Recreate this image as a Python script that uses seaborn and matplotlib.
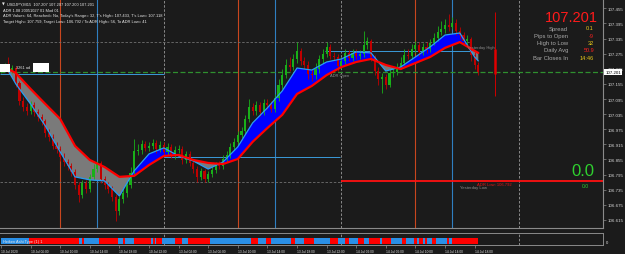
import matplotlib
matplotlib.use("Agg")
import matplotlib.pyplot as plt
from matplotlib.patches import Rectangle
from matplotlib.transforms import blended_transform_factory
import numpy as np
import seaborn as sns

# ---------------- data ----------------
# USDJPY, 30-minute candles placed on the M15 bar index (bar 0 = 10 Jul 02:00)
candle_bar = list(range(0, 260, 2))
first_open = 107.210
closes = [
    107.214, 107.226, 107.210, 107.218, 107.159, 107.087, 107.063, 107.048, 107.071, 107.044,
    107.024, 107.008, 106.960, 106.944, 106.909, 106.897, 106.865, 106.845, 106.829, 106.806,
    106.754, 106.714, 106.762, 106.738, 106.786, 106.817, 106.841, 106.778, 106.754, 106.738,
    106.706, 106.651, 106.698, 106.722, 106.754, 106.802, 106.889, 106.893, 106.917, 106.901,
    106.909, 106.921, 106.897, 106.913, 106.885, 106.905, 106.873, 106.893, 106.897, 106.853,
    106.877, 106.841, 106.817, 106.786, 106.810, 106.778, 106.798, 106.814, 106.833, 106.829,
    106.857, 106.873, 106.905, 106.925, 106.952, 106.968, 107.016, 107.063, 107.048, 107.071,
    107.044, 107.079, 107.071, 107.056, 107.099, 107.151, 107.190, 107.230, 107.222, 107.254,
    107.286, 107.246, 107.230, 107.194, 107.190, 107.214, 107.254, 107.274, 107.302, 107.266,
    107.262, 107.226, 107.246, 107.278, 107.258, 107.278, 107.266, 107.274, 107.310, 107.325,
    107.262, 107.206, 107.175, 107.183, 107.151, 107.198, 107.202, 107.222, 107.238, 107.270,
    107.266, 107.294, 107.310, 107.282, 107.302, 107.294, 107.317, 107.337, 107.361, 107.373,
    107.389, 107.381, 107.397, 107.365, 107.349, 107.325, 107.333, 107.270, 107.230, 107.201]
highs = [
    107.230, 107.238, 107.262, 107.230, 107.226, 107.167, 107.103, 107.079, 107.087, 107.083,
    107.056, 107.036, 107.016, 106.976, 106.956, 106.925, 106.909, 106.881, 106.857, 106.841,
    106.817, 106.766, 106.774, 106.774, 106.798, 106.837, 106.849, 106.849, 106.790, 106.766,
    106.750, 106.718, 106.710, 106.738, 106.766, 106.825, 106.936, 106.917, 106.933, 106.928,
    106.925, 106.936, 106.933, 106.928, 106.925, 106.921, 106.917, 106.909, 106.913, 106.909,
    106.889, 106.889, 106.857, 106.829, 106.821, 106.817, 106.810, 106.829, 106.845, 106.849,
    106.873, 106.889, 106.921, 106.940, 106.968, 106.984, 107.032, 107.095, 107.079, 107.087,
    107.083, 107.095, 107.095, 107.087, 107.115, 107.175, 107.214, 107.254, 107.262, 107.274,
    107.321, 107.298, 107.262, 107.246, 107.214, 107.238, 107.270, 107.294, 107.321, 107.313,
    107.282, 107.274, 107.262, 107.294, 107.290, 107.294, 107.294, 107.290, 107.365, 107.341,
    107.333, 107.270, 107.222, 107.198, 107.194, 107.214, 107.222, 107.238, 107.262, 107.294,
    107.294, 107.313, 107.325, 107.321, 107.317, 107.321, 107.333, 107.357, 107.385, 107.405,
    107.413, 107.433, 107.421, 107.413, 107.381, 107.361, 107.349, 107.341, 107.282, 107.242]
lows = [
    107.198, 107.206, 107.198, 107.198, 107.143, 107.071, 107.048, 107.032, 107.036, 107.028,
    107.008, 106.992, 106.944, 106.928, 106.897, 106.881, 106.849, 106.829, 106.814, 106.790,
    106.738, 106.687, 106.702, 106.722, 106.726, 106.774, 106.806, 106.762, 106.738, 106.722,
    106.690, 106.611, 106.635, 106.683, 106.706, 106.742, 106.790, 106.873, 106.877, 106.889,
    106.889, 106.897, 106.881, 106.885, 106.869, 106.873, 106.861, 106.857, 106.881, 106.837,
    106.841, 106.829, 106.802, 106.766, 106.774, 106.766, 106.766, 106.786, 106.802, 106.817,
    106.817, 106.845, 106.861, 106.893, 106.913, 106.940, 106.956, 107.004, 107.032, 107.032,
    107.028, 107.032, 107.056, 107.044, 107.044, 107.087, 107.135, 107.179, 107.206, 107.210,
    107.238, 107.230, 107.214, 107.175, 107.167, 107.175, 107.198, 107.238, 107.262, 107.254,
    107.246, 107.206, 107.214, 107.234, 107.246, 107.246, 107.254, 107.254, 107.262, 107.294,
    107.246, 107.190, 107.151, 107.118, 107.135, 107.143, 107.183, 107.190, 107.214, 107.230,
    107.254, 107.254, 107.278, 107.266, 107.270, 107.278, 107.282, 107.310, 107.325, 107.349,
    107.357, 107.365, 107.373, 107.349, 107.333, 107.310, 107.306, 107.246, 107.214, 107.190]

# moving-average band (slow = red, fast = light blue)
ma_bar = [4, 8, 16, 24, 32, 40, 48, 56, 64, 72, 80, 88, 96, 104, 112, 120, 128, 136, 144,
          152, 160, 168, 176, 184, 192, 200, 208, 216, 224, 232, 240, 248, 256, 258]
slow_ma = [107.214, 107.198, 107.135, 107.075, 107.016, 106.909, 106.853, 106.825, 106.786,
           106.790, 106.833, 106.869, 106.873, 106.853, 106.841, 106.837, 106.857, 106.925,
           106.980, 107.032, 107.115, 107.147, 107.190, 107.222, 107.242, 107.254, 107.230,
           107.214, 107.238, 107.262, 107.298, 107.321, 107.286, 107.278]
fast_ma = [107.206, 107.155, 107.075, 106.988, 106.885, 106.786, 106.774, 106.770, 106.710,
           106.810, 106.877, 106.901, 106.869, 106.849, 106.817, 106.845, 106.905, 107.000,
           107.060, 107.127, 107.218, 107.210, 107.242, 107.254, 107.282, 107.278, 107.206,
           107.222, 107.262, 107.302, 107.349, 107.357, 107.262, 107.246]

# Heiken Ashi strip: alternating run lengths (in M15 bars), first run is "up"
ha_runs = [15, 27, 2, 1, 8, 10, 3, 1, 5, 9, 1, 1, 1, 3, 7, 4, 3, 12, 22, 4, 4, 3, 11, 2, 5,
           5, 9, 4, 4, 2, 5, 3, 3, 6, 1, 5, 6, 2, 4, 2, 1, 2, 1, 1, 3, 2, 6, 1, 2, 14]

price_ticks = [106.615, 106.675, 106.735, 106.795, 106.855, 106.915, 106.975, 107.035,
               107.095, 107.155, 107.215, 107.275, 107.335, 107.395, 107.455]
time_tick_bars = [0, 16, 32, 48, 64, 80, 96, 112, 128, 144, 160, 176, 192, 208, 224, 240, 256]
time_tick_labels = ["10 Jul 2020", "10 Jul 06:00", "10 Jul 10:00", "10 Jul 14:00",
                    "10 Jul 18:00", "10 Jul 22:00", "13 Jul 02:00", "13 Jul 06:00",
                    "13 Jul 10:00", "13 Jul 14:00", "13 Jul 18:00", "13 Jul 22:00",
                    "14 Jul 02:00", "14 Jul 06:00", "14 Jul 10:00", "14 Jul 14:00",
                    "14 Jul 18:00"]

bid = 107.201
adr_low = 106.770
yest_high_lvl = 107.321
yest_low_lvl = 106.766
orange_bars = [32, 128, 224]
blue_bars = [52, 148, 244]
day_bars = [88, 184, 280]

# ---------------- style ----------------
BG = "#1b1b1b"
sns.set_theme(style="dark", rc={"axes.facecolor": BG, "figure.facecolor": BG})
plt.rcParams["font.family"] = ["Liberation Sans", "DejaVu Sans"]

W, H = 625, 255
fig = plt.figure(figsize=(6.25, 2.55), dpi=100, facecolor=BG)
ax = fig.add_axes([0, 26 / H, 603 / W, 229 / H])
ax2 = fig.add_axes([0, 9 / H, 603 / W, 12 / H])

XL = (-0.54, 325.4)
YL = (106.583, 107.492)

def ftext(x, y, s, **kw):
    fig.text(x / W, 1 - y / H, s, **kw)

# reference lines
for b in orange_bars:
    ax.axvline(b, color="#c8461e", lw=0.8, zorder=1)
for b in blue_bars:
    ax.axvline(b, color="#2f7fc1", lw=0.8, zorder=1)
for b in day_bars:
    ax.axvline(b, color="#9a9a9a", lw=0.6, ls=(0, (3, 2)), zorder=1)
    ax2.axvline(b, color="#9a9a9a", lw=0.6, ls=(0, (3, 2)), zorder=1)

ax.hlines(yest_high_lvl, XL[0], 254, color="#707070", lw=0.6, ls=(0, (3, 2)), zorder=1)
ax.hlines(yest_low_lvl, XL[0], 184, color="#707070", lw=0.6, ls=(0, (3, 2)), zorder=1)
ax.hlines(adr_low, 184, XL[1], color="#ff1010", lw=1.3, zorder=1)
ax.hlines(107.194, XL[0], 88, color="#3a9ad9", lw=0.7, zorder=1)
ax.hlines(106.865, 88, 183, color="#3a9ad9", lw=0.7, zorder=1)
ax.hlines(107.286, 175, 256, color="#3a9ad9", lw=0.7, zorder=1)
ax.axhline(bid, color="#2f8f2f", lw=0.9, ls=(0, (4, 2)), zorder=1)

# MA band
sm = np.array(slow_ma)
fm = np.array(fast_ma)
ax.fill_between(ma_bar, sm, fm, where=fm >= sm, interpolate=True, color="#0000ff", lw=0, zorder=2)
ax.fill_between(ma_bar, sm, fm, where=fm < sm, interpolate=True, color="#7a7a7a", lw=0, zorder=2)

# candles
opens = [first_open] + closes[:-1]
up = [c >= o for o, c in zip(opens, closes)]
cols = ["#19b019" if u else "#c00000" for u in up]
ax.vlines(candle_bar, lows, highs, colors=cols, lw=0.6, zorder=3)
body_lo = [min(o, c) for o, c in zip(opens, closes)]
body_h = [max(abs(c - o), 0.002) for o, c in zip(opens, closes)]
ax.bar(candle_bar, body_h, bottom=body_lo, width=1.1, color=cols, lw=0, zorder=3)

# MA lines via seaborn
sns.lineplot(x=ma_bar, y=fast_ma, ax=ax, color="#2a9df4", lw=0.9, sort=False, estimator=None, zorder=4)
sns.lineplot(x=ma_bar, y=slow_ma, ax=ax, color="#ff0000", lw=1.6, sort=False, estimator=None, zorder=5)

# last-bar marker line
ax.vlines(267, 107.107, 107.440, color="#d00000", lw=0.7, zorder=3)
ax.vlines(267, 107.194, 107.294, color="#e00000", lw=1.8, zorder=3)

ax.set_xlim(*XL)
ax.set_ylim(*YL)
ax.set_xlabel("")
ax.set_ylabel("")
ax.set_xticks([])
ax.yaxis.tick_right()
ax.set_yticks(price_ticks)
ax.set_yticklabels([f"{p:.3f}" for p in price_ticks])
ax.tick_params(axis="y", colors="#8a8a8a", labelcolor="#d8d8d8", labelsize=3.2,
               length=2, width=0.5, pad=1.2, right=True, left=False)
ax.grid(False)
for side in ["top", "left"]:
    ax.spines[side].set_visible(False)
for side in ["right", "bottom"]:
    ax.spines[side].set_color("#8a8a8a")
    ax.spines[side].set_linewidth(0.8)

# bid price box
tr = blended_transform_factory(ax.transAxes, ax.transData)
ax.text(1.004, bid, f"{bid:.3f}", transform=tr, fontsize=3.2, color="black",
        va="center", ha="left", clip_on=False,
        bbox=dict(boxstyle="square,pad=0.25", fc="white", ec="none"))

# Heiken Ashi strip
starts = np.cumsum([0] + ha_runs[:-1])
ha_cols = ["#2a8fe6" if i % 2 == 0 else "#ff0000" for i in range(len(ha_runs))]
ax2.bar(starts, 0.55, width=ha_runs, bottom=0.05, align="edge", color=ha_cols, lw=0, zorder=2)
ax2.set_xlim(*XL)
ax2.set_ylim(0, 1)
ax2.set_yticks([])
ax2.grid(False)
ax2.set_xticks(time_tick_bars)
ax2.set_xticklabels(time_tick_labels)
for lbl in ax2.get_xticklabels():
    lbl.set_ha("left")
ax2.tick_params(axis="x", colors="#8a8a8a", labelcolor="#e0e0e0", labelsize=2.3,
                length=2, width=0.5, pad=1.0, bottom=True)
ax2.spines["left"].set_visible(False)
for side in ["top", "right", "bottom"]:
    ax2.spines[side].set_color("#8a8a8a")
    ax2.spines[side].set_linewidth(0.7)

# ---------------- texts ----------------
WHITE = "#e6e6e6"
ftext(2, 4.7, "\u25bc", color=WHITE, fontsize=2.6, va="center", family=["DejaVu Sans"])
ftext(7, 4.7, "USDJPY,M15  107.207 107.207 107.200 107.201", color=WHITE, fontsize=2.9, va="center")
ftext(3, 10.5, "ADR 1.08 20051027 01 Mod 01", color=WHITE, fontsize=2.9, va="center")
ftext(3, 16, "ADR Values: 64, Reached= No, Today's Range= 32, T's High= 107.433, T's Low= 107.118",
      color=WHITE, fontsize=2.9, va="center")
ftext(3, 21.5, "Target High= 107.759, Target Low= 106.792 / To ADR High= 56, To ADR Low= 41",
      color=WHITE, fontsize=2.9, va="center")

# left label overlays
fig.patches.append(Rectangle((0, 1 - 73 / H), 10 / W, 8 / H, transform=fig.transFigure,
                             facecolor="white", edgecolor="none", zorder=6))
fig.patches.append(Rectangle((33 / W, 1 - 73 / H), 16 / W, 9 / H, transform=fig.transFigure,
                             facecolor="white", edgecolor="none", zorder=6))
ftext(16, 68.5, "3261 ad", color=WHITE, fontsize=2.8, va="center")

ftext(330, 76.5, "ADR Open", color="#8c8c8c", fontsize=2.9, va="center")
ftext(467, 47.5, "Yesterday High", color="#8c8c8c", fontsize=3.0, va="center")
ftext(460, 188, "Yesterday Low", color="#8c8c8c", fontsize=3.0, va="center")
ftext(477, 185, "ADR Low: 106.792", color="#e01818", fontsize=3.0, va="center")

# info panel
ftext(598, 18, "107.201", color="#ff1a1a", fontsize=10.5, ha="right", va="center")
info_labels = ["Spread", "Pips to Open", "High to Low", "Daily Avg", "Bar Closes In"]
info_values = ["0.1", "-9", "32", "50.9", "14:46"]
info_cols = ["#e8c81a", "#ff2020", "#e8c81a", "#ff2020", "#e8c81a"]
info_y = [29, 36.3, 43.6, 51, 58.3]
for lab, val, c, yy in zip(info_labels, info_values, info_cols, info_y):
    ftext(568, yy, lab, color="#a8a8a8", fontsize=4.2, ha="right", va="center")
    ftext(594, yy, val, color=c, fontsize=4.0, ha="right", va="center")

ftext(594, 172, "0.0", color="#2fd12f", fontsize=12, ha="right", va="center")
ftext(589, 187, "0.0", color="#2fd12f", fontsize=3.6, ha="right", va="center")

ftext(3, 242, "Heiken Ashi Type (1) 1", color=WHITE, fontsize=2.8, va="center")
ftext(606, 243, "0", color=WHITE, fontsize=3.0, va="center")

fig.savefig("out.png", dpi=100, facecolor=BG)
